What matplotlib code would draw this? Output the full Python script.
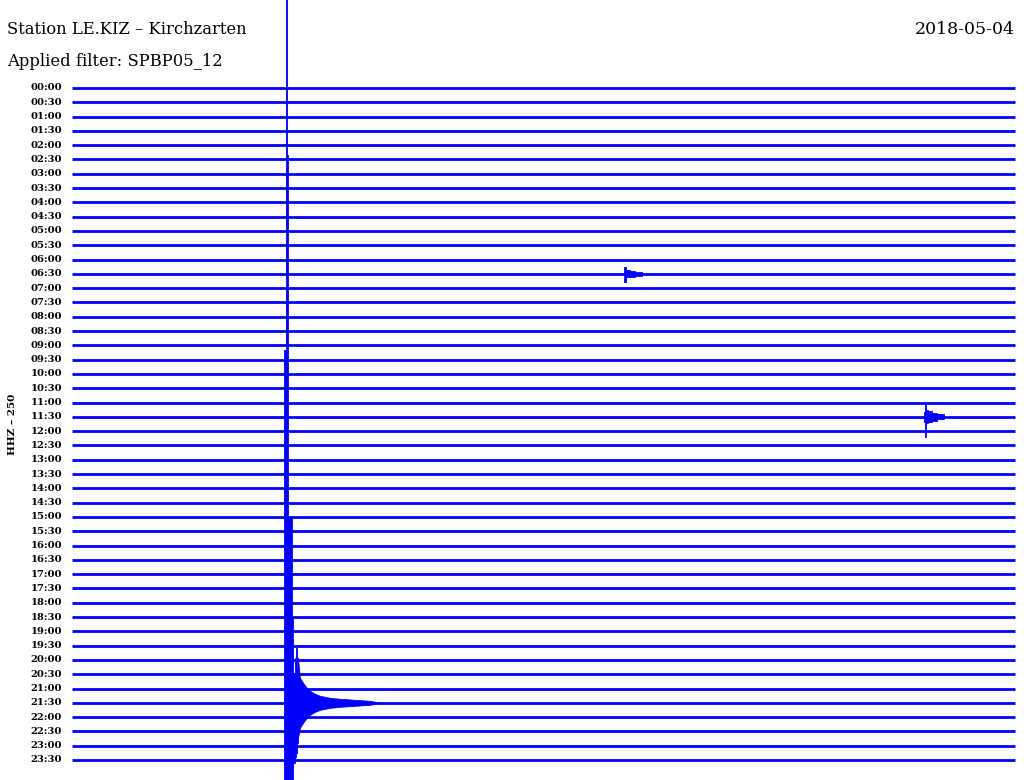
import numpy as np
import matplotlib
matplotlib.use("Agg")
import matplotlib.pyplot as plt

# helicorder rows: one per 30 min, 00:00 .. 23:30
row_labels = ["%02d:%02d" % (h, m) for h in range(24) for m in (0, 30)]
minutes_per_row = 30

# events: time in minutes within the row, amplitude in row spacings (up / down)
quake_row = 43  # 21:30
quake_t = [6.74, 6.78, 6.81, 6.84, 6.87, 6.90, 6.94, 6.97, 7.00, 7.03, 7.06, 7.10,
           7.13, 7.16, 7.19]
quake_up = [0.0, 24.7, 52.0, 24.7, 38.3, 12.9, 12.9, 12.9, 5.9, 4.2, 2.1, 3.1,
            3.8, 2.4, 3.1]
quake_down = [0.0, 6.0, 6.0, 6.0, 6.0, 6.0, 6.0, 6.0, 6.0, 6.0, 4.2, 3.8,
              3.5, 2.8, 2.45]
# coda after the main burst
coda_t = [7.19, 7.25, 7.35, 7.45, 7.57, 7.73, 7.89, 8.21, 8.53, 9.00, 9.48, 9.80]
coda_up = [3.1, 1.75, 1.4, 1.1, 0.84, 0.63, 0.49, 0.35, 0.28, 0.21, 0.14, 0.0]
coda_down = [2.45, 1.75, 1.4, 1.1, 0.84, 0.63, 0.49, 0.35, 0.28, 0.21, 0.14, 0.0]

ev1_row = 13  # 06:30
ev1_t = [17.56, 17.59, 17.63, 17.69, 17.82, 18.01, 18.23]
ev1_up = [0.0, 0.50, 0.28, 0.25, 0.21, 0.14, 0.0]
ev1_down = [0.0, 0.56, 0.21, 0.21, 0.21, 0.14, 0.0]

ev2_row = 23  # 11:30
ev2_t = [27.08, 27.11, 27.14, 27.17, 27.30, 27.43, 27.62, 27.87]
ev2_up = [0.0, 0.35, 0.98, 0.49, 0.42, 0.28, 0.17, 0.0]
ev2_down = [0.0, 0.35, 1.40, 0.42, 0.35, 0.28, 0.17, 0.0]

blue = "#0000ff"
font = "DejaVu Serif"

fig = plt.figure(figsize=(10.24, 7.8), dpi=100)
ax = fig.add_axes([0, 0, 1, 1])

px_per_min = (1015 - 72) / minutes_per_row
ax.set_xlim(-72 / px_per_min, (1024 - 72) / px_per_min)
row_px = (760 - 88) / 47
ax.set_ylim((780 - 88) / row_px, -88 / row_px)
ax.axis("off")

for i, lab in enumerate(row_labels):
    ax.plot([0, minutes_per_row], [i, i], color=blue, lw=2.0, solid_capstyle="butt")
    ax.text(-10 / px_per_min, i, lab, ha="right", va="center",
            fontsize=7.2, family=font, fontweight="bold")

for row, t, up, down in [(quake_row, quake_t, quake_up, quake_down),
                         (ev1_row, ev1_t, ev1_up, ev1_down),
                         (ev2_row, ev2_t, ev2_up, ev2_down)]:
    t = np.array(t)
    ax.fill_between(t, row - np.array(up), row + np.array(down),
                    step="mid", color=blue, lw=0.6, edgecolor=blue)

ax.fill_between(coda_t, quake_row - np.array(coda_up), quake_row + np.array(coda_down),
                color=blue, lw=0.6, edgecolor=blue)

fig.text(7 / 1024, 1 - 30 / 780, "Station LE.KIZ – Kirchzarten", ha="left", va="center",
         fontsize=11.8, family=font)
fig.text(7 / 1024, 1 - 61 / 780, "Applied filter: SPBP05_12", ha="left", va="center",
         fontsize=11.8, family=font)
fig.text(1015 / 1024, 1 - 30 / 780, "2018-05-04", ha="right", va="center",
         fontsize=12.5, family=font)
fig.text(13 / 1024, 1 - 424 / 780, "HHZ – 250", ha="center", va="center",
         rotation=90, fontsize=7.5, family=font, fontweight="bold")

fig.savefig("out.png", dpi=100, facecolor="white")
